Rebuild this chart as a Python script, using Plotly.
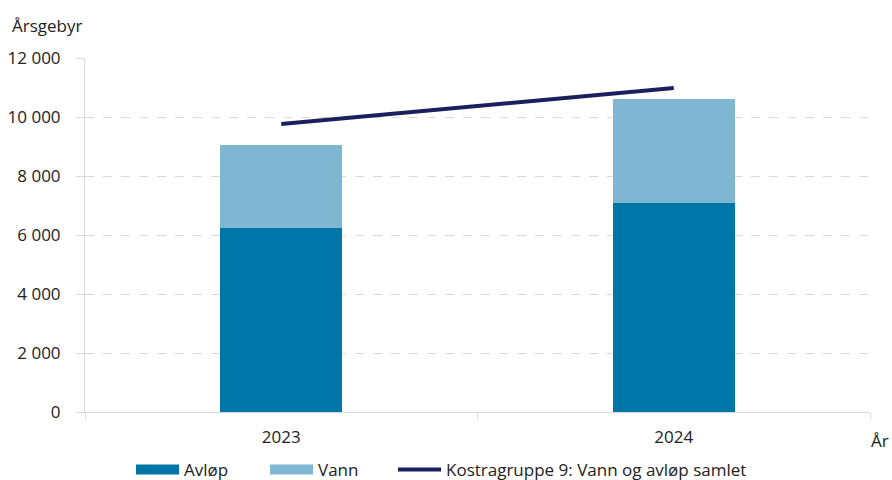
import plotly.graph_objects as go

years = ["2023", "2024"]
avlop = [6240, 7090]
vann = [2810, 3530]
kostra = [9760, 10980]

FONT = "Open Sans"
C_AVLOP = "#0076A8"
C_VANN = "#7FB7D3"
C_LINE = "#1B1F5C"
L, R, T, B = 85, 22, 58, 68
PW, PH = 892 - L - R, 480 - T - B

fig = go.Figure()
fig.add_trace(go.Bar(x=years, y=avlop, name="Avløp", marker=dict(color=C_AVLOP, line=dict(width=0)),
                     width=0.31, showlegend=False, legendgroup="a"))
fig.add_trace(go.Bar(x=years, y=vann, name="Vann", marker=dict(color=C_VANN, line=dict(width=0)),
                     width=0.31, showlegend=False, legendgroup="v"))
fig.add_trace(go.Scatter(x=years, y=kostra, name="Kostragruppe 9: Vann og avløp samlet", mode="lines",
                         line=dict(color=C_LINE, width=4), showlegend=False, legendgroup="k"))
# legend entries (wide swatches as in the reference)
fig.add_trace(go.Scatter(x=[None], y=[None], name="Avløp", mode="lines", legendgroup="a",
                         line=dict(color=C_AVLOP, width=13), legend="legend"))
fig.add_trace(go.Scatter(x=[None], y=[None], name="Vann", mode="lines", legendgroup="v",
                         line=dict(color=C_VANN, width=13), legend="legend2"))
fig.add_trace(go.Scatter(x=[None], y=[None], name="Kostragruppe 9: Vann og avløp samlet", mode="lines",
                         legendgroup="k", line=dict(color=C_LINE, width=4), legend="legend3"))


def leg(xpx):
    return dict(orientation="h", xref="container", yref="container", x=xpx / 892, xanchor="left",
                y=10 / 480, yanchor="middle", font=dict(size=17), itemwidth=43,
                bgcolor="rgba(0,0,0,0)")


fig.update_layout(
    barmode="stack",
    width=892, height=480,
    margin=dict(l=L, r=R, t=T, b=B, autoexpand=False),
    plot_bgcolor="white", paper_bgcolor="white",
    separators=", ",
    font=dict(family=FONT, size=17, color="#222222"),
    showlegend=True,
    legend=leg(131), legend2=leg(265), legend3=leg(393),
    xaxis=dict(range=[-0.5, 1.5], showline=True, linecolor="#D9D9D9", linewidth=1,
               ticks="outside", tickson="boundaries", ticklen=6, tickcolor="#D9D9D9",
               showgrid=False, ticklabelstandoff=10, automargin=False),
    yaxis=dict(range=[0, 12000], dtick=2000, tickformat=",.0f", showline=True, linecolor="#D9D9D9",
               linewidth=1, ticks="outside", ticklen=8, tickcolor="#D9D9D9",
               showgrid=True, gridcolor="#D9D9D9", griddash="dash", gridwidth=1,
               zeroline=False, ticklabelstandoff=12, automargin=False),
    annotations=[
        dict(text="Årsgebyr", xref="paper", yref="paper", x=(10 - L) / PW, y=1 + 33 / PH,
             xanchor="left", yanchor="middle", showarrow=False),
        dict(text="År", xref="paper", yref="paper", x=(891 - L) / PW, y=-28 / PH,
             xanchor="right", yanchor="middle", showarrow=False),
    ],
)
fig.write_html("out.html", config={"displayModeBar": False},
               post_script="document.body.style.margin='0';")
